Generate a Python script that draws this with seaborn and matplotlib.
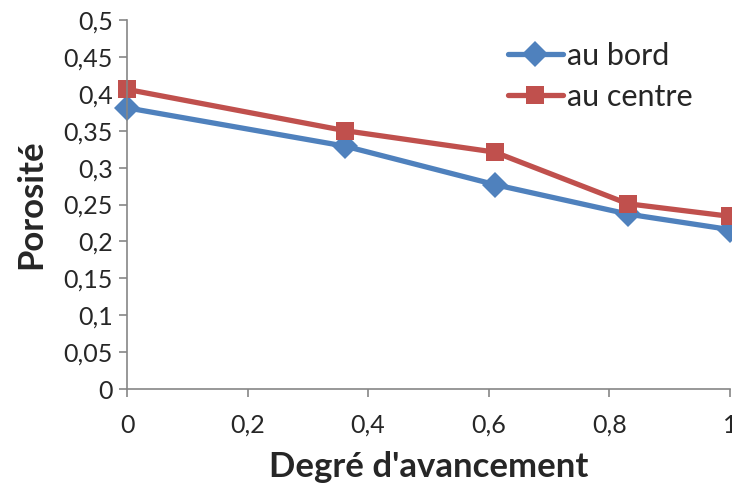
import matplotlib
matplotlib.use('Agg')
import matplotlib.pyplot as plt
import pandas as pd
import seaborn as sns

# data
degre = [0, 0.362, 0.61, 0.831, 1.0]
au_bord = [0.381, 0.329, 0.277, 0.237, 0.216]
au_centre = [0.406, 0.350, 0.321, 0.251, 0.234]
x_ticks = [0, 0.2, 0.4, 0.6, 0.8, 1]
y_ticks = [0, 0.05, 0.1, 0.15, 0.2, 0.25, 0.3, 0.35, 0.4, 0.45, 0.5]

df = pd.DataFrame({'degre': degre * 2,
                   'porosite': au_bord + au_centre,
                   'serie': ['au bord'] * len(degre) + ['au centre'] * len(degre)})

sns.set_style('white')
plt.rcParams['font.family'] = ['Lato', 'DejaVu Sans']

fig = plt.figure(figsize=(7.32, 4.83), dpi=100)
ax = fig.add_axes([0.1735, 0.1946, 0.8235, 0.764])

sns.lineplot(data=df, x='degre', y='porosite', hue='serie', style='serie',
             palette={'au bord': '#4F81BD', 'au centre': '#C0504D'},
             markers={'au bord': 'D', 'au centre': 's'},
             dashes=False, linewidth=3.8, markersize=13, markeredgewidth=0,
             ax=ax, clip_on=False)

ax.set_xlim(0, 1)
ax.set_ylim(0, 0.5)
ax.set_xticks(x_ticks)
ax.set_yticks(y_ticks)
ax.set_xticklabels([f'{t:g}'.replace('.', ',') for t in x_ticks], fontsize=18)
ax.set_yticklabels([f'{t:g}'.replace('.', ',') for t in y_ticks], fontsize=18)
ax.tick_params(axis='both', direction='out', length=6, width=1.2, color='#868686',
               bottom=True, left=True)
ax.tick_params(axis='x', pad=12)
ax.tick_params(axis='y', pad=4)

for side in ['top', 'right']:
    ax.spines[side].set_visible(False)
for side in ['left', 'bottom']:
    ax.spines[side].set_color('#868686')
    ax.spines[side].set_linewidth(1.2)

ax.set_xlabel('Degré d\'avancement', fontsize=25, fontweight='bold', labelpad=10)
ax.set_ylabel('Porosité', fontsize=25, fontweight='bold', labelpad=12)

leg = ax.legend(title=None, loc='upper left', bbox_to_anchor=(0.632, 0.94),
                fontsize=22, frameon=False, handlelength=1.8, handletextpad=0.13,
                labelspacing=0.42, borderaxespad=0, borderpad=0)

fig.savefig('out.png', dpi=100)
